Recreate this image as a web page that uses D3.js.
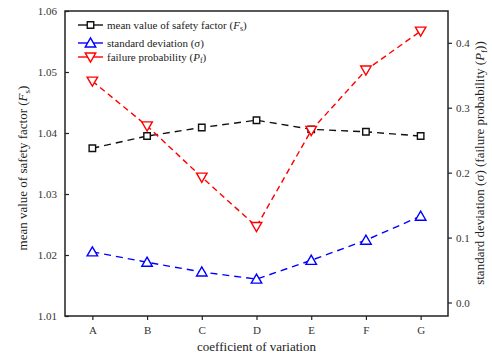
<!DOCTYPE html>
<html>
<head>
<meta charset="utf-8">
<script src="https://cdn.jsdelivr.net/npm/d3@7"></script>
<style>
  body{margin:0;background:#fff;}
  svg text{font-family:"Liberation Serif","DejaVu Serif",serif;fill:#222;}
</style>
</head>
<body>
<div class="chart"></div>
<script>
var categories = ["A","B","C","D","E","F","G"];
var meanFs = [1.0375, 1.0395, 1.0409, 1.0421, 1.0406, 1.0402, 1.0395];
var stdDev = [0.078, 0.062, 0.047, 0.036, 0.065, 0.096, 0.133];
var failProb = [0.341, 0.272, 0.193, 0.117, 0.265, 0.358, 0.418];
var leftTicks = [1.01, 1.02, 1.03, 1.04, 1.05, 1.06];
var rightTicks = [0.0, 0.1, 0.2, 0.3, 0.4];

var W = 492, H = 361;
var plotL = 65, plotR = 448, plotT = 11, plotB = 316;

var svg = d3.select(".chart").append("svg")
  .attr("width", W).attr("height", H);

var x = d3.scalePoint().domain(categories).range([plotL, plotR]).padding(0.5);
var yL = d3.scaleLinear().domain([1.01, 1.06]).range([plotB, plotT]);
var yR = d3.scaleLinear().domain([-0.0208, 0.449]).range([plotB, plotT]);

// frame
svg.append("rect")
  .attr("x", plotL).attr("y", plotT)
  .attr("width", plotR-plotL).attr("height", plotB-plotT)
  .style("fill","none").style("stroke","#222").style("stroke-width","1.5px");

// axes
var axL = svg.append("g").attr("transform","translate("+plotL+",0)")
  .call(d3.axisLeft(yL).tickValues(leftTicks).tickFormat(d3.format(".2f")).tickSizeInner(-4).tickSizeOuter(0).tickPadding(8));
var axR = svg.append("g").attr("transform","translate("+plotR+",0)")
  .call(d3.axisRight(yR).tickValues(rightTicks).tickFormat(d3.format(".1f")).tickSizeInner(4).tickSizeOuter(0).tickPadding(4));
var axB = svg.append("g").attr("transform","translate(0,"+plotB+")")
  .call(d3.axisBottom(x).tickSizeInner(4).tickSizeOuter(0).tickPadding(6));

[axL, axR, axB].forEach(function(a){
  a.attr("font-family","Liberation Serif").attr("font-size",11);
  a.select(".domain").remove();
  a.selectAll(".tick line").style("stroke","#222").style("stroke-width","1.2px");
  a.selectAll(".tick text").style("fill","#333");
});

// titles
svg.append("text")
  .attr("transform","translate(27,168) rotate(-90)")
  .attr("text-anchor","middle").style("font-size","13px")
  .html('mean value of safety factor (<tspan font-style="italic">F</tspan><tspan font-size="9px" dy="3">s</tspan><tspan dy="-3">)</tspan>');
svg.append("text")
  .attr("transform","translate(484,163) rotate(-90)")
  .attr("text-anchor","middle").style("font-size","13px")
  .html('standard deviation (σ) (failure probability (<tspan font-style="italic">P</tspan><tspan font-size="9px" dy="3">f</tspan><tspan dy="-3">))</tspan>');
svg.append("text")
  .attr("x", (plotL+plotR)/2).attr("y", 351)
  .attr("text-anchor","middle").style("font-size","13px")
  .text("coefficient of variation");

var series = [
  {name:"mean", vals:meanFs, y:yL, color:"#111", sym:d3.symbolSquare, size:42, rot:0, dash:"7,5"},
  {name:"std", vals:stdDev, y:yR, color:"#0000ff", sym:d3.symbolTriangle, size:48, rot:0, dash:"7,5"},
  {name:"pf", vals:failProb, y:yR, color:"#ff0000", sym:d3.symbolTriangle, size:48, rot:180, dash:"6,4"}
];

series.forEach(function(s){
  var line = d3.line()
    .x(function(d,i){ return x(categories[i]); })
    .y(function(d){ return s.y(d); });
  svg.append("path")
    .datum(s.vals)
    .attr("d", line)
    .style("fill","none").style("stroke", s.color)
    .style("stroke-width","1.4px").style("stroke-dasharray", s.dash);
});

series.forEach(function(s){
  svg.append("g").selectAll("path")
    .data(s.vals).enter().append("path")
    .attr("d", d3.symbol().type(s.sym).size(s.size))
    .attr("transform", function(d,i){
      var yy = s.y(d) + (s.sym === d3.symbolTriangle ? (s.rot ? -1 : 1) : 0);
      return "translate("+x(categories[i])+","+yy+") rotate("+s.rot+")";
    })
    .style("fill","#fff").style("stroke", s.color).style("stroke-width","1.4px");
});

// legend
var legendItems = [
  {s:series[0], y:25, label:'mean value of safety factor (<tspan font-style="italic">F</tspan><tspan font-size="8px" dy="2">s</tspan><tspan dy="-2">)</tspan>'},
  {s:series[1], y:43, label:'standard deviation (σ)'},
  {s:series[2], y:57, label:'failure probability (<tspan font-style="italic">P</tspan><tspan font-size="8px" dy="2">f</tspan><tspan dy="-2">)</tspan>'}
];
legendItems.forEach(function(it){
  var g = svg.append("g");
  g.append("line").attr("x1",78).attr("x2",103).attr("y1",it.y).attr("y2",it.y)
    .style("stroke", it.s.color).style("stroke-width","1.4px");
  g.append("path")
    .attr("d", d3.symbol().type(it.s.sym).size(it.s.size))
    .attr("transform","translate(90.5,"+(it.y + (it.s.sym === d3.symbolTriangle ? (it.s.rot ? -1 : 1) : 0))+") rotate("+it.s.rot+")")
    .style("fill","#fff").style("stroke", it.s.color).style("stroke-width","1.4px");
  g.append("text").attr("x",107).attr("y",it.y+4).style("font-size","11px").html(it.label);
});
</script>
</body>
</html>
